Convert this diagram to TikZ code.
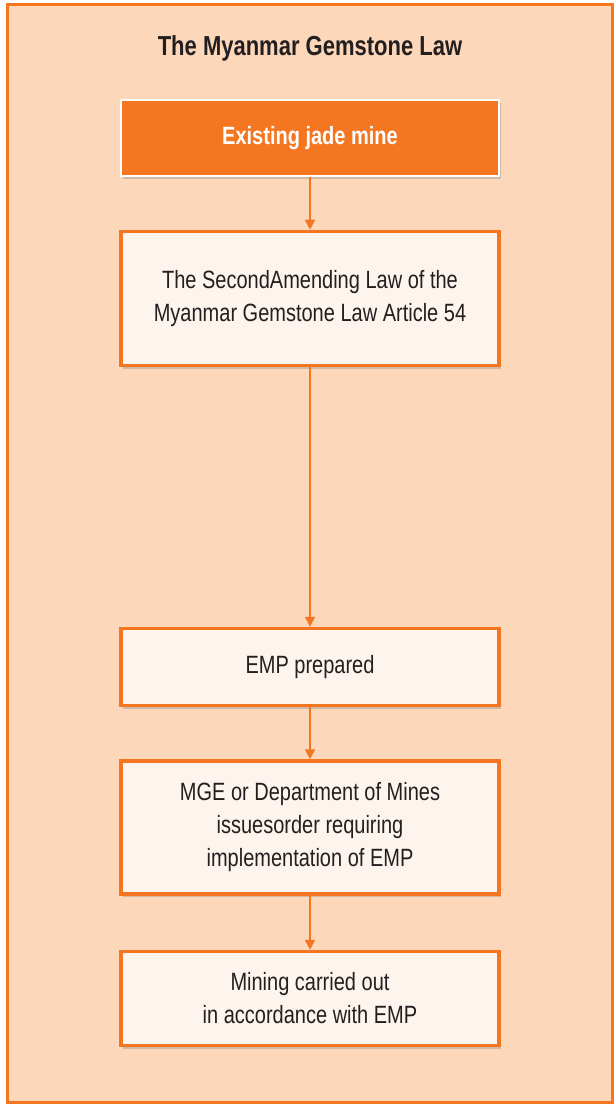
\documentclass[tikz,border=0pt]{standalone}
\usepackage{fontspec}
\setmainfont[FakeStretch=0.80]{Liberation Sans}
\usetikzlibrary{shadows,arrows.meta}
\definecolor{gemorange}{HTML}{F47621}
\definecolor{gempeach}{HTML}{FDD7B9}
\definecolor{gemcream}{HTML}{FEF4EE}
\definecolor{gemtext}{HTML}{231F20}
\tikzset{
  lawbox/.style={draw=gemorange, line width=3.5pt, fill=gemcream, text=gemtext,
    minimum width=378pt, align=center, font=\fontsize{25}{33}\selectfont,
    drop shadow={opacity=0.35, shadow xshift=2pt, shadow yshift=-3pt}},
  topbox/.style={lawbox, draw=white, line width=2pt, fill=gemorange, text=white,
    font=\fontsize{25}{33}\selectfont\bfseries},
  flow/.style={draw=gemorange, line width=1.6pt, -{Triangle[length=10pt,width=10pt]}}
}
\begin{document}
\begin{tikzpicture}[x=1pt, y=-1pt]
      \useasboundingbox (0, 0) rectangle (615, 1107);
      \draw [gemorange, line width=3pt, fill=gempeach] (7, 5) rectangle (612, 1102);
      \node (title) at (310, 48) {\fontsize{27.5}{30}\selectfont\bfseries\color{gemtext}The Myanmar Gemstone Law};
      \node [topbox, minimum height=76pt] (mine) at (310, 138) {Existing jade mine};
      \node [lawbox, minimum height=134pt] (article) at (310, 298.5) {The SecondAmending Law of the\\Myanmar Gemstone Law Article 54};
      \node [lawbox, minimum height=77pt] (prepared) at (310, 667) {EMP prepared};
      \node [lawbox, minimum height=133pt] (order) at (310, 827.5) {MGE or Department of Mines\\issuesorder requiring\\implementation of EMP};
      \node [lawbox, minimum height=94pt] (mining) at (310, 998.5) {Mining carried out\\in accordance with EMP};
      \draw [flow] (mine) -- (article);
      \draw [flow] (article) -- (prepared);
      \draw [flow] (prepared) -- (order);
      \draw [flow] (order) -- (mining);
    \end{tikzpicture}
\end{document}
